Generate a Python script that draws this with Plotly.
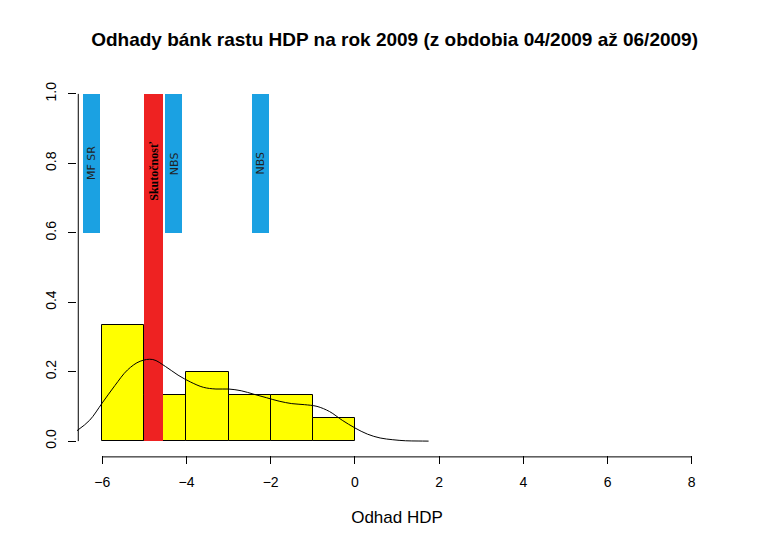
import plotly.graph_objects as go

bin_left = [-6, -5, -4, -3, -2, -1]
bin_height = [0.333, 0.133, 0.2, 0.133, 0.133, 0.067]
dens_x = [-6.6, -6.3, -6, -5.7, -5.4, -5.1, -4.8, -4.5, -4.2, -3.9, -3.6, -3.3, -3.0, -2.7, -2.4, -2.1, -1.8, -1.5, -1.2, -0.9, -0.6, -0.3, 0, 0.3, 0.6, 0.9, 1.2, 1.5, 1.75]
dens_y = [0.03, 0.06, 0.11, 0.16, 0.205, 0.23, 0.235, 0.215, 0.19, 0.17, 0.155, 0.15, 0.15, 0.145, 0.135, 0.125, 0.115, 0.108, 0.105, 0.1, 0.085, 0.06, 0.038, 0.02, 0.009, 0.004, 0.001, 0.0003, 0.0]
blue_labels = ["MF SR", "NBS", "NBS"]
blue_x = [-6.25, -4.3, -2.25]
actual_label = "Skutočnosť"
actual_x = -4.78

fig = go.Figure()
fig.add_bar(x=[b + 0.5 for b in bin_left], y=bin_height, width=1,
            marker=dict(color="yellow", line=dict(color="black", width=1)))
fig.add_bar(x=blue_x, y=[0.4]*3, base=[0.6]*3, width=0.4,
            marker=dict(color="#1ba1e2", line=dict(width=0)))
fig.add_scatter(x=dens_x, y=dens_y, mode="lines", line=dict(color="black", width=1, shape="spline"))
fig.add_bar(x=[actual_x], y=[1], width=0.45,
            marker=dict(color="#ee2222", line=dict(width=0)))
for lab, x in zip(blue_labels, blue_x):
    fig.add_annotation(x=x, y=0.8, text=lab, textangle=-90, showarrow=False,
                       font=dict(size=11, color="#222", family="DejaVu Sans"))
fig.add_annotation(x=actual_x + 0.02, y=0.78, text="<b>" + actual_label + "</b>", textangle=-90,
                   showarrow=False, font=dict(size=12, color="black", family="Liberation Serif"))
fig.add_shape(type="line", xref="x", yref="paper", x0=-6, x1=8, y0=-0.005, y1=-0.005,
              line=dict(color="black", width=1))
fig.add_shape(type="line", xref="paper", yref="y", x0=0.002, x1=0.002, y0=0, y1=1,
              line=dict(color="black", width=1))
fig.update_layout(
    width=758, height=552, barmode="overlay", showlegend=False,
    plot_bgcolor="white", paper_bgcolor="white",
    margin=dict(l=69, r=49, t=72, b=105),
    font=dict(family="Liberation Sans", size=14, color="black"),
    title=dict(text="<b>Odhady bánk rastu HDP na rok 2009 (z obdobia 04/2009 až 06/2009)</b>",
               x=0.51, xanchor="center", y=0.955, font=dict(size=19)),
    xaxis=dict(range=[-6.6, 8.6], tickvals=[-6, -4, -2, 0, 2, 4, 6, 8], showgrid=False,
               zeroline=False, ticks="outside", ticklen=8, tickcolor="black", automargin=False,
               ticklabelstandoff=6, title=dict(text="Odhad HDP", standoff=22)),
    yaxis=dict(range=[-0.04, 1.04], tickvals=[0, 0.2, 0.4, 0.6, 0.8, 1.0],
               ticktext=["0.0", "0.2", "0.4", "0.6", "0.8", "1.0"], tickangle=-90, automargin=False,
               showgrid=False, zeroline=False, ticks="outside", ticklen=8, tickcolor="black",
               ticklabelstandoff=6),
    bargap=0,
)
fig.write_html("out.html")
